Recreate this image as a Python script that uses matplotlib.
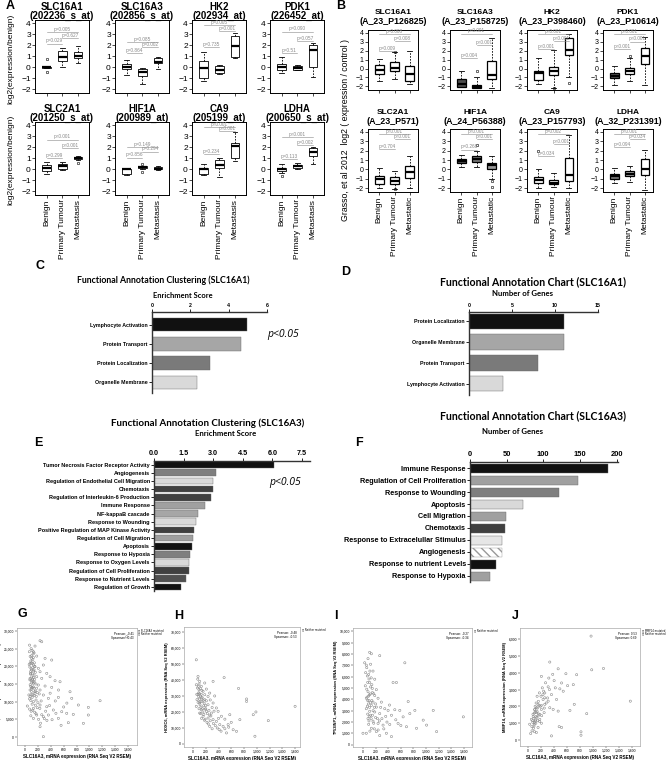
import numpy as np
import matplotlib
matplotlib.use('Agg')
import matplotlib.pyplot as plt

plt.rcParams['font.family'] = ['Liberation Sans', 'DejaVu Sans']
NARROW = ['Liberation Sans Narrow', 'Liberation Sans', 'DejaVu Sans']
TITLE = ['Lato', 'Liberation Sans', 'DejaVu Sans']

W, H = 666, 760
fig = plt.figure(figsize=(6.66, 7.6), dpi=100)


def px_axes(x, y, w, h):
    return fig.add_axes([x / W, 1 - (y + h) / H, w / W, h / H])


def ftext(x, y, s, **kw):
    return fig.text(x / W, 1 - y / H, s, **kw)


# ---------------- panel A (expression vs benign) ----------------
groups_a = ['Benign', 'Primary Tumour', 'Metastasis']
genes_a = ['SLC16A1', 'SLC16A3', 'HK2', 'PDK1', 'SLC2A1', 'HIF1A', 'CA9', 'LDHA']
probes_a = ['202236_s_at', '202856_s_at', '202934_at', '226452_at',
            '201250_s_at', '200989_at', '205199_at', '200650_s_at']
# [whislo, q1, med, q3, whishi] per group
box_a = [
    [[-0.08, -0.05, 0.0, 0.03, 0.05], [0.05, 0.6, 0.95, 1.45, 1.75], [0.4, 0.8, 1.05, 1.35, 1.95]],
    [[-0.7, -0.2, 0.0, 0.3, 0.65], [-1.5, -0.8, -0.45, -0.2, -0.05], [-0.15, 0.4, 0.5, 0.8, 0.9]],
    [[-1.25, -1.0, -0.05, 0.55, 1.4], [-0.6, -0.55, -0.3, 0.15, 0.2], [0.85, 0.9, 1.95, 2.85, 3.1]],
    [[-0.55, -0.3, 0.0, 0.3, 0.95], [-0.3, -0.25, -0.1, 0.12, 0.2], [-0.85, 0.0, 1.55, 2.0, 2.2]],
    [[-0.45, -0.15, 0.15, 0.4, 0.65], [-0.05, 0.05, 0.25, 0.45, 0.7], [0.8, 0.95, 1.05, 1.15, 1.2]],
    [[-0.55, -0.45, 0.0, 0.05, 0.1], [0.05, 0.15, 0.2, 0.25, 0.3], [-0.05, 0.0, 0.05, 0.2, 0.25]],
    [[-0.5, -0.4, 0.05, 0.15, 0.45], [-0.75, 0.15, 0.35, 0.8, 1.05], [0.75, 1.0, 2.15, 2.4, 3.4]],
    [[-0.35, -0.15, 0.0, 0.15, 0.45], [0.0, 0.15, 0.25, 0.35, 0.55], [0.45, 1.2, 1.55, 1.9, 2.0]],
]
fliers_a = [
    [[0.75, -0.45], [], []], [[], [], []], [[], [], []], [[], [], []],
    [[], [], [0.6]], [[], [0.5, -0.3], []], [[], [], []], [[-0.6], [], []],
]
# (label, height) for Benign-Primary, Benign-Metastasis, Primary-Metastasis
pvals_a = [
    [('p=0.029', 2.15), ('p=0.005', 3.2), ('p=0.627', 2.65)],
    [('p=0.864', 1.25), ('p=0.085', 2.3), ('p=0.002', 1.8)],
    [('p=0.735', 1.85), ('p=0.005', 3.8), ('p=0.001', 3.3)],
    [('p=0.51', 1.25), ('p=0.090', 3.25), ('p=0.057', 2.4)],
    [('p=0.299', 1.0), ('p<0.001', 2.7), ('p<0.001', 1.9)],
    [('p=0.856', 1.05), ('p=0.149', 2.0), ('p=0.294', 1.6)],
    [('p=0.234', 1.4), ('p<0.001', 3.85), ('p<0.001', 3.45)],
    [('p=0.113', 0.9), ('p<0.001', 2.9), ('p=0.002', 2.2)],
]

# ---------------- panel B (Grasso et al 2012) ----------------
groups_b = ['Benign', 'Primary Tumour', 'Metastatic']
probes_b = ['A_23_P126825', 'A_23_P158725', 'A_23_P398460', 'A_23_P10614',
            'A_23_P571', 'A_24_P56388', 'A_23_P157793', 'A_32_P231391']
box_b = [
    [[-1.35, -0.65, -0.2, 0.35, 1.1], [-1.2, -0.3, 0.05, 0.75, 1.8], [-1.7, -1.45, -0.65, 0.3, 2.0]],
    [[-2.1, -2.05, -1.7, -1.15, -0.3], [-2.2, -2.2, -2.05, -1.8, -1.0], [-2.2, -1.2, -0.75, 0.85, 3.4]],
    [[-1.7, -1.25, -0.55, -0.3, 1.15], [-2.2, -0.75, -0.25, 0.2, 2.05], [-0.95, 1.5, 2.05, 3.4, 3.9]],
    [[-1.8, -1.1, -0.8, -0.5, 0.25], [-1.35, -0.65, -0.3, 0.1, 1.2], [-1.8, 0.5, 1.4, 2.3, 3.5]],
    [[-2.0, -1.5, -1.05, -0.75, 0.2], [-2.05, -1.5, -1.2, -0.8, -0.2], [-2.0, -0.9, -0.3, 0.4, 1.4]],
    [[0.3, 0.65, 0.9, 1.1, 1.5], [0.25, 0.8, 1.1, 1.4, 2.0], [-1.0, 0.0, 0.45, 0.7, 1.4]],
    [[-2.0, -1.45, -1.1, -0.8, 0.0], [-1.9, -1.6, -1.4, -1.15, -0.35], [-2.0, -1.2, -0.6, 1.2, 3.7]],
    [[-1.45, -1.0, -0.75, -0.5, 0.2], [-1.3, -0.7, -0.45, -0.2, 0.35], [-2.15, -0.6, 0.0, 1.1, 2.1]],
]
fliers_b = [
    [[], [1.8], []], [[], [-0.3], []], [[], [-2.2], [-1.65]], [[], [1.35], []],
    [[], [-2.05], []], [[], [2.6], [-1.25, -1.9]], [[2.0], [], []], [[], [], []],
]
pvals_b = [
    [('p=0.009', 1.9), ('p=0.008', 3.8), ('p=0.008', 3.1)],
    [('p=0.004', 1.2), ('p<0.001', 3.9), ('p<0.001', 2.6)],
    [('p<0.001', 2.2), ('p<0.001', 3.8), ('p<0.001', 3.1)],
    [('p<0.001', 2.2), ('p<0.001', 3.8), ('p<0.001', 3.0)],
    [('p=0.704', 2.2), ('p<0.001', 3.8), ('p<0.001', 3.2)],
    [('p=0.266', 2.1), ('p<0.001', 3.8), ('p<0.001', 3.2)],
    [('p=0.034', 1.4), ('p=0.002', 3.8), ('p<0.001', 2.7)],
    [('p=0.094', 2.4), ('p<0.001', 3.8), ('p=0.034', 3.2)],
]
fill_b = [
    ['white', 'white', 'white'], ['#4d4d4d', '#4d4d4d', 'white'],
    ['white', 'white', 'white'], ['#555555', 'white', 'white'],
    ['white', 'white', 'white'], ['#555555', '#777777', '#999999'],
    ['white', 'white', 'white'], ['#777777', '#aaaaaa', 'white'],
]

# ---------------- panels C-F (functional annotation) ----------------
c_terms = ['Lymphocyte Activation', 'Protein Transport', 'Protein Localization', 'Organelle Membrane']
c_scores = [4.96, 4.64, 3.03, 2.36]
d_terms = ['Protein Localization', 'Organelle Membrane', 'Protein Transport', 'Lymphocyte Activation']
d_counts = [11, 11, 8, 4]
cd_colors = ['#111111', '#a6a6a6', '#7a7a7a', '#d9d9d9']

e_terms = ['Tumor Necrosis Factor Receptor Activity', 'Angiogenesis',
           'Regulation of Endothelial Cell Migration', 'Chemotaxis',
           'Regulation of Interleukin-6 Production', 'Immune Response',
           'NF-kappaB cascade', 'Response to Wounding',
           'Positive Regulation of MAP Kinase Activity', 'Regulation of Cell Migration',
           'Apoptosis', 'Response to Hypoxia', 'Response to Oxygen Levels',
           'Regulation of Cell Proliferation', 'Response to Nutrient Levels',
           'Regulation of Growth']
e_scores = [6.1, 3.15, 3.0, 2.97, 2.87, 2.57, 2.25, 2.11, 2.03, 1.96, 1.94, 1.82, 1.78, 1.75, 1.62, 1.38]
e_colors = ['#111111', '#7f7f7f', '#d9d9d9', '#404040', '#404040', '#a0a0a0', '#a6a6a6', '#d9d9d9',
            '#404040', '#a0a0a0', '#111111', '#7f7f7f', '#d9d9d9', '#404040', '#505050', '#111111']

f_terms = ['Immune Response', 'Regulation of Cell Proliferation', 'Response to Wounding',
           'Apoptosis', 'Cell Migration', 'Chemotaxis', 'Response to Extracelullar Stimulus',
           'Angiogenesis', 'Response to nutrient Levels', 'Response to Hypoxia']
f_counts = [189, 147, 121, 72, 49, 48, 44, 43, 35, 27]
f_colors = ['#111111', '#a0a0a0', '#7f7f7f', '#d9d9d9', '#a0a0a0', '#404040', '#e6e6e6',
            'white', '#111111', '#a0a0a0']

# ---------------- panels G-J (cBioPortal scatter) ----------------
g_pts = [(233, 27250), (259, 26970), (155, 25740), (130, 24140), (67, 24140), (181, 22900),
         (104, 22250), (311, 22250), (414, 21780), (78, 20840), (130, 20370), (155, 19900),
         (207, 19430), (104, 18950), (233, 18480), (285, 20370), (140, 17540), (181, 17070),
         (78, 16600), (259, 16600), (337, 18010), (389, 17070), (466, 15940), (544, 15650),
         (130, 15180), (207, 14710), (104, 14050), (311, 14430), (414, 14050), (699, 12820),
         (233, 13300), (155, 12350), (78, 11410), (285, 11880), (363, 10940), (518, 11220),
         (725, 10940), (829, 9050), (1166, 10280), (36, 8770), (130, 8110), (233, 9050),
         (337, 8580), (440, 7640), (570, 7170), (647, 6700), (181, 6220), (285, 5750),
         (363, 6220), (518, 5280), (673, 4060), (907, 3870), (984, 6220), (984, 8390),
         (130, 5280), (233, 2920), (285, 100), (1580, 28380), (78, 13300), (171, 10470),
         (119, 16130), (90, 21500), (110, 20800), (120, 21900), (75, 19800), (95, 19300),
         (140, 19000), (160, 18300), (85, 17800), (115, 17900), (130, 16900), (150, 16300),
         (95, 15900), (105, 15300), (125, 15600), (170, 15000), (80, 14800), (140, 13800),
         (160, 13000), (190, 12600), (100, 12900), (120, 12000), (60, 11900), (90, 10300),
         (130, 10000), (200, 9700), (110, 9300), (160, 9000), (70, 7900), (95, 7300),
         (150, 7000), (230, 8100), (260, 6300), (300, 5200), (340, 4700), (420, 4900),
         (480, 6700), (600, 8500), (650, 9600), (750, 6400), (560, 3300), (100, 23000),
         (85, 18500), (115, 14000), (145, 21000), (95, 12000), (175, 11500),
         (70, 26000), (95, 25000), (110, 24500), (125, 23500), (80, 22800), (140, 23800),
         (100, 21000), (130, 22500), (150, 20000), (65, 20500), (120, 19600), (90, 18000),
         (105, 17000), (135, 18700), (75, 16200), (115, 16400), (145, 15500), (88, 14300),
         (130, 14200), (100, 13600), (150, 12800), (110, 11200), (70, 10800), (140, 11700),
         (180, 13800), (220, 12200), (250, 10200), (190, 8300), (120, 7600), (90, 6000),
         (170, 6600), (210, 5000), (240, 3900), (320, 7300), (380, 8900), (470, 10200),
         (520, 13300), (390, 12400)]
h_pts = [(52, 52600), (79, 42200), (105, 39100), (52, 37000), (131, 36000), (184, 38100),
         (94, 33900), (158, 32900), (210, 34300), (262, 31800), (315, 39100), (79, 30800),
         (131, 28700), (184, 27700), (236, 29700), (105, 25600), (168, 23900), (236, 24500),
         (315, 25600), (367, 22500), (52, 23500), (131, 21400), (210, 20400), (289, 19300),
         (394, 20400), (446, 17300), (158, 17300), (236, 16200), (315, 15200), (367, 14100),
         (420, 12100), (472, 11000), (551, 12100), (630, 8900), (682, 7900), (525, 6900),
         (735, 15200), (714, 34700), (840, 28100), (840, 26600), (945, 18300), (987, 20000),
         (1181, 14600), (1601, 23500), (971, 4800), (488, 41500), (577, 18300), (262, 11000),
         (105, 19300), (63, 27700), (184, 30800), (70, 35000), (90, 32000), (120, 30000),
         (140, 26500), (100, 28000), (80, 26000), (150, 22000), (190, 21800), (120, 19000),
         (170, 18500), (200, 24000), (250, 21000), (280, 17500), (330, 20500), (110, 24500),
         (60, 31000), (220, 13500), (400, 16000), (350, 11500), (300, 9500), (180, 14800),
         (500, 15500), (410, 9000), (560, 10500), (600, 13500), (140, 33500), (95, 37500),
         (75, 40500), (85, 36000), (115, 34500), (100, 31500), (130, 31000), (145, 29000),
         (160, 27300), (90, 29500), (110, 26500), (175, 25500), (125, 23000), (95, 22000),
         (200, 22000), (155, 20000), (225, 19000), (260, 18000), (135, 16000), (190, 15500),
         (270, 14500), (240, 12500), (320, 12800), (380, 10000), (440, 8000), (500, 9500),
         (300, 22800), (210, 27000), (270, 27500), (340, 30000)]
i_pts = [(106, 8150), (133, 8030), (265, 7860), (27, 7230), (53, 7020), (159, 6500),
         (42, 6360), (69, 6070), (186, 5780), (106, 5490), (37, 5200), (148, 4970),
         (212, 4860), (80, 4680), (117, 4480), (186, 4340), (53, 4100), (239, 4100),
         (95, 3900), (159, 3760), (292, 3760), (133, 3470), (212, 3320), (345, 3180),
         (53, 3180), (106, 2950), (186, 2890), (265, 2750), (398, 3030), (504, 3090),
         (583, 3030), (451, 2600), (636, 2460), (742, 2750), (822, 3030), (80, 2310),
         (159, 2080), (239, 1880), (318, 1730), (424, 1790), (556, 1880), (689, 1590),
         (848, 1450), (1007, 1730), (1166, 1160), (954, 2170), (1113, 3030), (1590, 2460),
         (133, 1450), (53, 1010), (212, 1160), (371, 1010), (0, 1010), (663, 7230),
         (477, 5490), (530, 5490), (716, 3810), (451, 720), (265, 810), (90, 4300),
         (120, 3700), (70, 3400), (150, 2600), (100, 2500), (60, 4900), (140, 5300),
         (110, 6500), (170, 4500), (200, 3600), (230, 2300), (130, 2300), (90, 1800),
         (180, 1400), (300, 2300), (360, 2500), (420, 3500), (95, 5800), (75, 3900),
         (80, 7600), (120, 7100), (60, 6800), (90, 6200), (130, 5900), (75, 5500),
         (120, 5100), (150, 4600), (100, 4400), (65, 4200), (140, 3900), (85, 3600),
         (180, 3300), (105, 3300), (160, 3000), (75, 2700), (120, 2600), (200, 2400),
         (95, 2100), (260, 2100), (170, 1900), (110, 1200), (240, 1300), (330, 1400),
         (280, 3300), (380, 2000), (520, 2200), (600, 1700)]
j_pts = [(970, 6170), (335, 4630), (464, 4230), (980, 4170), (1161, 4250), (206, 3780),
         (320, 3680), (402, 3530), (516, 3390), (583, 3940), (609, 3230), (697, 3290),
         (748, 3880), (490, 3040), (542, 2900), (310, 3160), (258, 2800), (361, 2700),
         (439, 2410), (232, 2410), (206, 2060), (155, 2120), (258, 2120), (310, 2310),
         (387, 1820), (464, 1720), (645, 1760), (712, 2120), (903, 1570), (1574, 2310),
         (103, 1820), (129, 1630), (77, 1530), (155, 1430), (52, 1230), (113, 1140),
         (181, 1230), (26, 940), (93, 840), (155, 750), (62, 550), (41, 390), (129, 450),
         (206, 1000), (361, 250), (480, 800), (516, 750), (815, 490), (815, 290),
         (258, 2510), (335, 1920), (206, 1820), (129, 1920), (181, 1530), (248, 1630),
         (90, 1300), (140, 1700), (100, 1050), (70, 1150), (160, 2300), (190, 2000),
         (120, 1400), (60, 800), (230, 2700), (280, 2200), (110, 1650), (150, 1150),
         (80, 1400), (95, 1600), (105, 1800), (115, 1200), (125, 2200), (135, 1350),
         (145, 1900), (160, 1550), (170, 2050), (95, 950), (85, 700), (120, 1000),
         (140, 2600), (175, 2800), (200, 2600), (220, 3100), (240, 2900), (270, 3400),
         (300, 2500), (330, 3000), (380, 3900), (420, 3100), (210, 1450), (250, 1900),
         (100, 500), (75, 1050), (110, 2000), (180, 1100)]
scatter_genes = ['CDH1', 'HOXC6', 'TP53INP1', 'MMP14']
scatter_r = [('-0.41', '-0.43'), ('-0.48', '-0.53'), ('-0.27', '-0.34'), ('0.53', '0.69')]


# ---------------- drawing helpers ----------------
def draw_boxes(ax, stats, fl, pv, fills, lw, ylim, xlim):
    bx = [dict(whislo=s[0], q1=s[1], med=s[2], q3=s[3], whishi=s[4], fliers=f)
          for s, f in zip(stats, fl)]
    parts = ax.bxp(bx, positions=[1, 2, 3], widths=0.55, patch_artist=True,
                   boxprops=dict(linewidth=lw, edgecolor='black'),
                   whiskerprops=dict(linewidth=0.6, linestyle=(0, (2, 1.5))),
                   capprops=dict(linewidth=0.6), capwidths=0.3,
                   medianprops=dict(color='black', linewidth=1.6),
                   flierprops=dict(marker='o', markersize=1.8, markerfacecolor='none',
                                   markeredgecolor='black', markeredgewidth=0.4))
    for patch, c in zip(parts['boxes'], fills):
        patch.set_facecolor(c)
    pairs = [(1, 2), (1, 3), (2, 3)]
    for (lab, yv), (a, b) in zip(pv, pairs):
        ax.plot([a, b], [yv, yv], color='#888888', lw=0.4)
        ax.text((a + b) / 2, yv + 0.02, lab, ha='center', va='bottom',
                fontsize=3.4, color='#888888')
    ax.set_xlim(*xlim)
    ax.set_ylim(*ylim)
    ax.set_yticks([-2, -1, 0, 1, 2, 3, 4])
    ax.set_xticks([1, 2, 3])
    ax.tick_params(length=2, width=0.5, labelsize=6, pad=1)
    for s in ax.spines.values():
        s.set_linewidth(0.7)


a_lefts = [35, 115, 192, 270]
b_lefts = [368, 450, 527, 603]
for k in range(8):
    r, c = divmod(k, 4)
    # panel A
    top = 20 if r == 0 else 122
    ax = px_axes(a_lefts[c], top, 54, 73)
    draw_boxes(ax, box_a[k], fliers_a[k], pvals_a[k], ['white'] * 3, 0.6,
               (-2.35, 4.3), (0.25, 3.7))
    if r == 1:
        ax.set_xticklabels(groups_a, rotation=90, fontsize=6)
    else:
        ax.set_xticklabels([])
    cx = a_lefts[c] + 27
    ftext(cx, top - 13, genes_a[k], ha='center', va='center', fontsize=7, fontweight='bold')
    ftext(cx, top - 4, '(' + probes_a[k] + ')', ha='center', va='center', fontsize=7,
          fontweight='bold', family=NARROW)
    # panel B
    topb = 30 if r == 0 else 129
    hb = 60 if r == 0 else 63
    ax = px_axes(b_lefts[c], topb, 50, hb)
    draw_boxes(ax, box_b[k], fliers_b[k], pvals_b[k], fill_b[k], 0.9,
               (-2.4, 4.3), (0.25, 3.55))
    ax.tick_params(labelsize=5)
    if r == 1:
        ax.set_xticklabels(groups_b, rotation=90, fontsize=6)
    else:
        ax.set_xticklabels([])
    cxb = b_lefts[c] + 25
    ftext(cxb, topb - 17, genes_a[k], ha='center', va='center', fontsize=6, fontweight='bold')
    ftext(cxb, topb - 8, '(' + probes_b[k] + ')', ha='center', va='center', fontsize=6.4,
          fontweight='bold', family=NARROW)

ftext(11, 59, 'log2(expression/benign)', rotation=90, ha='center', va='center', fontsize=6.0)
ftext(11, 160, 'log2(expression/benign)', rotation=90, ha='center', va='center', fontsize=6.0)
ftext(346, 130, 'Grasso, et al 2012  log2 ( expression / control )', rotation=90,
      ha='center', va='center', fontsize=6.3)


def draw_hbars(ax, terms, vals, colors, xlim, xticks, ylim, h, lsize, tsize, font):
    y = np.arange(len(terms))
    bars = ax.barh(y, vals, height=h, color=colors, edgecolor='#666666', linewidth=0.3)
    ax.set_yticks(y)
    ax.set_yticklabels(terms, fontsize=lsize, fontweight='bold', family=font)
    ax.set_xlim(*xlim)
    ax.set_ylim(*ylim)
    ax.xaxis.tick_top()
    ax.set_xticks(xticks)
    for s in ['right', 'bottom']:
        ax.spines[s].set_visible(False)
    for s in ['left', 'top']:
        ax.spines[s].set_linewidth(1.0)
        ax.spines[s].set_color('#333333')
    ax.tick_params(axis='y', length=2, width=0.6, pad=1)
    ax.tick_params(axis='x', length=2, width=0.6, pad=1, labelsize=tsize)
    for t in ax.get_xticklabels():
        t.set_fontweight('bold')
        t.set_family(font)
    return bars


# panel C
ax = px_axes(152, 312, 115, 81)
draw_hbars(ax, c_terms, c_scores, cd_colors, (0, 6), [0, 2, 4, 6], (3.55, -0.65), 0.7,
           3.8, 3.8, ['Liberation Sans'])
ftext(163, 280, 'Functional Annotation Clustering (SLC16A1)', ha='center', va='center',
      fontsize=6.3, fontweight='bold', family=TITLE)
ftext(183, 296, 'Enrichment Score', ha='center', va='center', fontsize=5.4,
      fontweight='bold', family=TITLE)
ftext(283, 335, 'p<0.05', ha='center', va='center', fontsize=7.5, style='italic',
      family=['Open Sans', 'DejaVu Sans'])

# panel D
ax = px_axes(469, 312, 129, 83)
draw_hbars(ax, d_terms, d_counts, cd_colors, (0, 15), [0, 5, 10, 15], (3.55, -0.45), 0.75,
           3.8, 3.8, ['Liberation Sans'])
ftext(533, 282, 'Functional Annotation Chart (SLC16A1)', ha='center', va='center',
      fontsize=7.6, fontweight='bold', family=TITLE)
ftext(522, 294, 'Number of Genes', ha='center', va='center', fontsize=5.6,
      fontweight='bold', family=TITLE)

# panel E
ax = px_axes(154, 461, 156, 130)
draw_hbars(ax, e_terms, e_scores, e_colors, (0, 7.9), [0.0, 1.5, 3.0, 4.5, 6.0, 7.5],
           (15.5, -0.45), 0.82, 4.0, 5.2, NARROW)
ax.set_xticklabels(['0.0', '1.5', '3.0', '4.5', '6.0', '7.5'])
for t in ax.get_xticklabels():
    t.set_fontweight('bold')
    t.set_family(NARROW)
ftext(208, 423, 'Functional Annotation Clustering (SLC16A3)', ha='center', va='center',
      fontsize=7.0, fontweight='bold', family=TITLE)
ftext(226, 433, 'Enrichment Score', ha='center', va='center', fontsize=5.6,
      fontweight='bold', family=TITLE)
ftext(285, 483, 'p<0.05', ha='center', va='center', fontsize=7.5, style='italic',
      family=['Open Sans', 'DejaVu Sans'])

# panel F
ax = px_axes(470, 462, 148, 120)
fb = draw_hbars(ax, f_terms, f_counts, f_colors, (0, 202), [0, 50, 100, 150, 200],
                (9.5, -0.5), 0.75, 5.2, 5.4, NARROW)
fb[7].set_hatch('\\\\\\\\')
fb[7].set_edgecolor('#999999')
ftext(533, 416, 'Functional Annotation Chart (SLC16A3)', ha='center', va='center',
      fontsize=7.6, fontweight='bold', family=TITLE)
ftext(513, 432, 'Number of Genes', ha='center', va='center', fontsize=5.6,
      fontweight='bold', family=TITLE)

# panels G-J
sc_pts = [g_pts, h_pts, i_pts, j_pts]
sc_frames = [(17, 628, 120, 117), (184, 627, 116, 120), (353, 628, 119, 119), (520, 628, 120, 118)]
sc_xlim = [(-125, 1740), (-141, 1678), (-158, 1727), (-123, 1723)]
sc_ylim = [(-2260, 30850), (-1900, 73100), (-200, 10300), (-350, 6650)]
sc_yticks = [np.arange(0, 30001, 5000), np.arange(0, 70001, 10000),
             np.arange(0, 10001, 1000), np.arange(0, 6001, 1000)]
sc_legend = [['SLC16A3 mutated', 'Neither mutated'], ['Neither mutated'],
             ['Neither mutated'], ['MMP14 mutated', 'Neither mutated']]
for k in range(4):
    x0, y0, w, h = sc_frames[k]
    ax = px_axes(x0, y0, w, h)
    pts = np.array(sc_pts[k], dtype=float).T
    ax.scatter(pts[0], pts[1], s=2.5, facecolors='none', edgecolors='#8a8a8a', linewidths=0.4)
    ax.set_xlim(*sc_xlim[k])
    ax.set_ylim(*sc_ylim[k])
    ax.set_xticks(np.arange(0, 1601, 200))
    ax.set_yticks(sc_yticks[k])
    ax.set_xticklabels(['{:,}'.format(v) for v in range(0, 1601, 200)])
    ax.set_yticklabels(['{:,}'.format(int(v)) for v in sc_yticks[k]])
    ax.tick_params(labelsize=2.4, length=1.2, width=0.3, pad=0.8)
    for s in ax.spines.values():
        s.set_linewidth(0.5)
        s.set_color('#aaaaaa')
    ax.set_xlabel('SLC16A3, mRNA expression (RNA Seq V2 RSEM)', fontsize=3.3,
                  fontweight='bold', labelpad=1.5)
    ax.set_ylabel(scatter_genes[k] + ', mRNA expression (RNA Seq V2 RSEM)', fontsize=2.9,
                  fontweight='bold', labelpad=1)
    ax.text(0.97, 0.97, 'Pearson: ' + scatter_r[k][0] + '\nSpearman: ' + scatter_r[k][1],
            transform=ax.transAxes, ha='right', va='top', fontsize=2.2, linespacing=1.0)
    for j, lab in enumerate(sc_legend[k]):
        ftext(x0 + w + 1.5, y0 + 2 + j * 3.2, '\u25cb ' + lab, ha='left', va='center',
              fontsize=1.8, family=['DejaVu Sans'])

# panel letters
for lab, (lx, ly) in zip('ABCDEFGHIJ', [(6, 6), (336, 6), (35, 266), (341, 272), (34, 443),
                                        (355, 443), (18, 614), (174, 616), (334, 616),
                                        (512, 616)]):
    ftext(lx, ly, lab, ha='left', va='center', fontsize=9, fontweight='bold')

fig.savefig('out.png', dpi=100)
